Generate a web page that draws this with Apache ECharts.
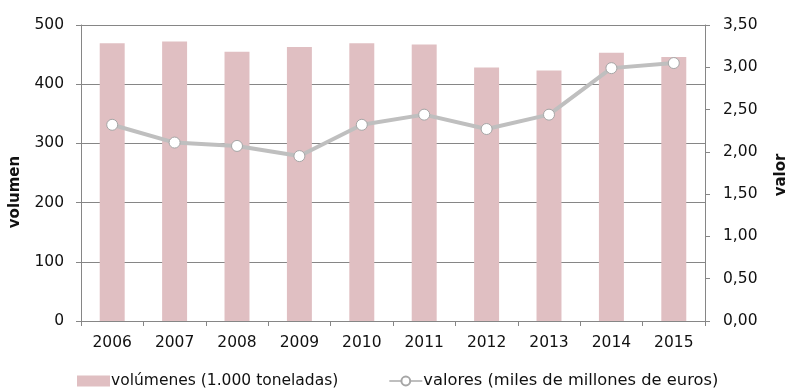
<!DOCTYPE html>
<html>
<head>
<meta charset="utf-8">
<script src="https://cdn.jsdelivr.net/npm/echarts@6/dist/echarts.min.js"></script>
<style>
  html, body { margin: 0; padding: 0; background: #fff; }
  #chart { width: 787px; height: 392px; }
</style>
</head>
<body>
<div id="chart"></div>
<script>
// Years on the category axis
const years = ['2006', '2007', '2008', '2009', '2010', '2011', '2012', '2013', '2014', '2015'];
// Volumes, thousand tonnes (left axis)
const volumenes = [469, 472, 455, 463, 469, 467, 428, 423, 453, 446];
// Values, billions of euros (right axis)
const valores = [2.32, 2.11, 2.07, 1.95, 2.32, 2.44, 2.27, 2.44, 2.99, 3.05];

const FONT = 'DejaVu Sans';
const TEXT = '#111111';
const AXIS = '#868686';

const fmtComma = v => v.toFixed(2).replace('.', ',');

const chart = echarts.init(document.getElementById('chart'), null, { renderer: 'canvas' });
chart.setOption({
  animation: false,
  textStyle: { fontFamily: FONT, color: TEXT },
  grid: { left: 81, right: 82, top: 25, bottom: 71, containLabel: false, outerBoundsMode: 'none' },
  legend: {
    bottom: -2,
    left: 72,
    itemGap: 50,
    textStyle: { fontFamily: FONT, fontSize: 15.5, color: TEXT, padding: [0, 0, 0, -4] },
    data: [
      { name: 'volúmenes (1.000 toneladas)', icon: 'rect', itemStyle: { color: '#e0bfc2' } },
      { name: 'valores (miles de millones de euros)', textStyle: { fontSize: 16.3 } }
    ],
    itemWidth: 33,
    itemHeight: 11
  },
  // right-hand axis title, reading bottom to top
  graphic: [{
    type: 'text',
    x: 781,
    y: 175,
    rotation: Math.PI / 2,
    style: {
      text: 'valor',
      font: 'bold 15px "DejaVu Sans"',
      fill: TEXT,
      textAlign: 'center',
      textVerticalAlign: 'middle'
    }
  }],
  xAxis: {
    type: 'category',
    data: years,
    axisLine: { lineStyle: { color: AXIS, width: 1 } },
    axisTick: { show: true, length: 5, alignWithLabel: false, lineStyle: { color: AXIS } },
    axisLabel: { fontFamily: FONT, fontSize: 15.5, color: TEXT, margin: 14 },
    splitLine: { show: false }
  },
  yAxis: [
    {
      type: 'value',
      min: 0, max: 500, interval: 100,
      name: 'volumen',
      nameLocation: 'middle',
      nameRotate: 90,
      nameGap: 58,
      nameTextStyle: { fontFamily: FONT, fontSize: 15, fontWeight: 'bold', color: TEXT, padding: [0, 38, 0, 0] },
      axisLine: { show: true, lineStyle: { color: AXIS } },
      axisTick: { show: true, length: 5, lineStyle: { color: AXIS } },
      axisLabel: { fontFamily: FONT, fontSize: 15.5, color: TEXT, margin: 17 },
      splitLine: { show: true, lineStyle: { color: AXIS, width: 1 } }
    },
    {
      type: 'value',
      min: 0, max: 3.5, interval: 0.5,
      position: 'right',
      axisLine: { show: true, lineStyle: { color: AXIS } },
      axisTick: { show: true, length: 5, lineStyle: { color: AXIS } },
      axisLabel: { fontFamily: FONT, fontSize: 15.5, color: TEXT, margin: 18, formatter: fmtComma },
      splitLine: { show: false }
    }
  ],
  series: [
    {
      name: 'volúmenes (1.000 toneladas)',
      type: 'bar',
      yAxisIndex: 0,
      data: volumenes,
      barWidth: '40%',
      itemStyle: { color: '#e0bfc2' }
    },
    {
      name: 'valores (miles de millones de euros)',
      type: 'line',
      yAxisIndex: 1,
      data: valores,
      symbol: 'circle',
      symbolSize: 11,
      lineStyle: { color: '#bfbfbf', width: 4 },
      itemStyle: { color: '#ffffff', borderColor: '#a6a6a6', borderWidth: 1 }
    }
  ]
});
</script>
</body>
</html>
